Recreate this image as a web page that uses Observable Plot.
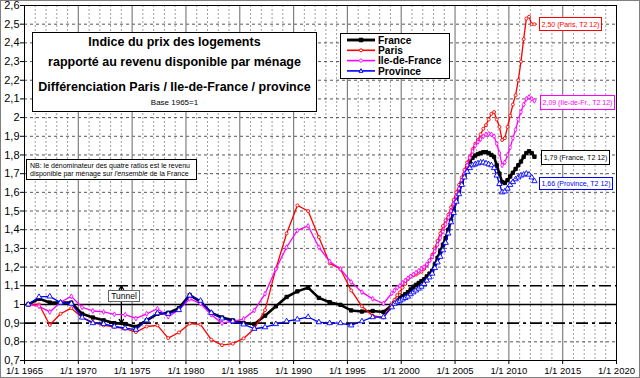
<!DOCTYPE html>
<html><head><meta charset="utf-8">
<script src="https://cdn.jsdelivr.net/npm/d3@7"></script>
<script src="https://cdn.jsdelivr.net/npm/@observablehq/plot@0.6"></script>
<style>
body{margin:0;background:#fff;font-family:"Liberation Sans",Arial,sans-serif;}
#wrap{position:relative;width:640px;height:378px;overflow:hidden;background:#fff;}
#wrap > svg{display:block;}
.ov{position:absolute;box-sizing:border-box;background:#fff;border:1px solid #000;white-space:nowrap;}
.t{position:absolute;left:0;right:0;text-align:center;line-height:1;}
#outer{position:absolute;left:0;top:0;width:640px;height:378px;box-sizing:border-box;border:1px solid #808080;pointer-events:none;}
</style></head><body><div id="wrap"></div>
<script>
// ---------- data ----------
const annualYears = d3.range(1965, 1999); // 1965..1998, annual values
const quarterYears = d3.range(1999, 2013); // quarterly values 1999 T1 .. 2012 T2
const series = ["France", "Paris", "Ile-de-France", "Province"];
const shortNames = ["France", "Paris", "Ile-de-Fr.", "Province"];
const colors = ["#000000", "#ff0000", "#ff00ff", "#0000ff"];

const franceAnnual = [1.00,1.03,1.01,1.01,1.01,0.95,0.93,0.915,0.90,0.895,
  0.88,0.915,0.95,0.955,0.98,1.05,1.015,0.955,0.93,0.915,
  0.90,0.895,0.94,0.99,1.04,1.07,1.09,1.035,1.012,0.998,
  0.968,0.962,0.965,0.96];
const parisAnnual = [1.00,1.00,0.89,0.95,0.98,0.93,0.905,0.888,0.88,0.87,
  0.852,0.882,0.888,0.82,0.85,0.898,0.893,0.812,0.782,0.79,
  0.818,0.87,0.97,1.19,1.38,1.53,1.50,1.36,1.22,1.19,
  1.075,0.99,0.94,0.93];
const idfAnnual = [1.00,0.99,0.96,1.012,1.043,0.985,0.965,0.96,0.947,0.945,
  0.925,0.95,0.977,0.935,0.972,1.03,1.005,0.945,0.90,0.91,
  0.922,0.968,1.057,1.19,1.306,1.396,1.42,1.306,1.23,1.19,
  1.12,1.066,1.03,1.005];
const provinceAnnual = [1.00,1.04,1.043,1.01,1.004,0.93,0.90,0.896,0.882,0.873,
  0.865,0.915,0.953,0.95,0.97,1.048,1.02,0.955,0.925,0.91,
  0.893,0.87,0.878,0.895,0.91,0.92,0.933,0.905,0.90,0.90,
  0.888,0.91,0.932,0.932];

const franceQuarterly = [0.995,1.01,1.02,1.035, 1.045,1.055,1.066,1.08, 1.095,1.105,1.115,1.125,
  1.135,1.15,1.165,1.18, 1.215,1.25,1.285,1.32, 1.355,1.40,1.45,1.50, 1.56,1.605,1.65,1.69,
  1.74,1.765,1.785,1.797, 1.805,1.81,1.815,1.815, 1.81,1.80,1.79,1.745, 1.70,1.655,1.65,1.665,
  1.685,1.705,1.725,1.745, 1.765,1.79,1.81,1.82, 1.81,1.79];
const parisQuarterly = [1.00,1.025,1.05,1.065, 1.09,1.11,1.135,1.15, 1.155,1.16,1.17,1.175,
  1.19,1.21,1.235,1.265, 1.30,1.34,1.38,1.42, 1.45,1.48,1.52,1.56, 1.60,1.64,1.68,1.72,
  1.76,1.79,1.83,1.86, 1.88,1.91,1.94,1.96, 1.99,2.02,2.03,1.99, 1.95,1.88,1.89,1.95,
  2.01,2.07,2.12,2.20, 2.30,2.42,2.53,2.54, 2.50,2.50];
const idfQuarterly = [1.06,1.075,1.09,1.10, 1.115,1.128,1.14,1.15, 1.16,1.17,1.18,1.19,
  1.20,1.215,1.235,1.255, 1.285,1.32,1.355,1.39, 1.43,1.465,1.50,1.54, 1.58,1.62,1.665,1.70,
  1.745,1.785,1.82,1.85, 1.87,1.885,1.90,1.91, 1.913,1.91,1.90,1.86, 1.81,1.745,1.76,1.80,
  1.84,1.89,1.935,1.99, 2.03,2.07,2.10,2.11, 2.10,2.09];
const provinceQuarterly = [0.985,1.004,1.012,1.02, 1.027,1.035,1.042,1.055, 1.065,1.075,1.085,1.095,
  1.11,1.128,1.145,1.165, 1.195,1.225,1.255,1.29, 1.33,1.38,1.44,1.49, 1.55,1.59,1.64,1.68,
  1.71,1.73,1.745,1.75, 1.755,1.76,1.76,1.755, 1.75,1.745,1.73,1.69, 1.645,1.60,1.605,1.62,
  1.64,1.655,1.67,1.68, 1.69,1.695,1.70,1.695, 1.68,1.66];

const xTickYears = [1965,1970,1975,1980,1985,1990,1995,2000,2005,2010,2015,2020];
const yTickValues = [0.7,0.8,0.9,1,1.1,1.2,1.3,1.4,1.5,1.6,1.7,1.8,1.9,2,2.1,2.2,2.3,2.4,2.5,2.6];
const tunnelBand = [0.9, 1.1];
const baseLevel = 1;
const tunnelYear = 1974;
const lastPeriod = "T2 12";

// ---------- build table ----------
const annualSets = [franceAnnual, parisAnnual, idfAnnual, provinceAnnual];
const quarterSets = [franceQuarterly, parisQuarterly, idfQuarterly, provinceQuarterly];
const quarterDates = [];
quarterYears.forEach(y => [0,1,2,3].forEach(q => quarterDates.push(y + q / 4 + 0.125)));
const rows = [];
series.forEach((s, i) => {
  annualSets[i].forEach((v, k) => rows.push({series: s, date: annualYears[k] + 0.35, value: v}));
  quarterSets[i].forEach((v, k) => rows.push({series: s, date: quarterDates[k], value: v}));
});

const symbols = {"France": "square", "Paris": "circle", "Ile-de-France": "diamond", "Province": "triangle"};
const widths = {"France": 2.6, "Paris": 1.3, "Ile-de-France": 1.3, "Province": 1.3};
const fmt = d => String(Math.round(d * 10) / 10).replace(".", ",");

const minorYears = d3.range(1966, 2020).filter(y => y % 5 !== 0);
const majorYears = xTickYears.slice(1, -1);
const gridY = yTickValues.filter(v => v > 0.75 && v < 2.55 && !tunnelBand.includes(v) && v !== baseLevel);

const lineMarks = [];
series.forEach((s, i) => {
  const d = rows.filter(r => r.series === s);
  lineMarks.push(Plot.line(d, {x: "date", y: "value", stroke: colors[i], strokeWidth: widths[s]}));
  const sym = symbols[s];
  lineMarks.push(Plot.dot(d, {x: "date", y: "value", symbol: sym,
    r: s === "France" ? 1.9 : (sym === "triangle" ? 2.0 : 1.5),
    stroke: colors[i], strokeWidth: 0.9,
    fill: s === "France" ? colors[i] : "white"}));
});

const chart = Plot.plot({
  width: 640, height: 378,
  marginLeft: 24, marginRight: 24, marginTop: 5, marginBottom: 18,
  style: {fontFamily: '"Liberation Sans", Arial, sans-serif', background: "white", color: "black"},
  x: {domain: [1965, 2020], label: null},
  y: {domain: [0.7, 2.6], label: null},
  marks: [
    Plot.ruleX(minorYears, {stroke: "#a0a0a0", strokeDasharray: "2,2", strokeWidth: 1}),
    Plot.ruleY(gridY, {stroke: "#555", strokeDasharray: "3,3", strokeWidth: 1}),
    Plot.ruleX(majorYears, {stroke: "#808080", strokeWidth: 1.2}),
    Plot.ruleY([baseLevel], {stroke: "#000", strokeWidth: 1.6}),
    Plot.ruleY(tunnelBand, {stroke: "#000", strokeWidth: 1.6, strokeDasharray: "12,4,3,4"}),
    Plot.arrow([{a: baseLevel, b: tunnelBand[1]}, {a: baseLevel, b: tunnelBand[0]}],
      {x1: () => tunnelYear, x2: () => tunnelYear, y1: "a", y2: "b", stroke: "#000", strokeWidth: 1.3, headLength: 5}),
    Plot.frame({stroke: "#000"}),
    Plot.axisY({ticks: yTickValues, tickFormat: fmt, tickSize: 4, tickPadding: 1, fontSize: 11, label: null}),
    Plot.axisX({ticks: xTickYears, tickFormat: d => "1/1 " + d, tickSize: 4, tickPadding: 3, fontSize: 9.5, label: null}),
    ...lineMarks
  ]
});
const wrap = document.getElementById("wrap");
wrap.appendChild(chart);

// ---------- overlays ----------
function box(left, top, w, h, color, html, css) {
  const d = document.createElement("div");
  d.className = "ov";
  d.style.cssText = `left:${left}px;top:${top}px;width:${w}px;height:${h}px;border-color:${color};color:${color};` + (css || "");
  d.innerHTML = html;
  wrap.appendChild(d);
  return d;
}
// title box
box(32, 32, 285, 80, "#000",
  `<div class="t" style="top:3px;font-weight:bold;font-size:12.5px;">Indice du prix des logements</div>
   <div class="t" style="top:23px;font-weight:bold;font-size:12.5px;">rapporté au revenu disponible par ménage</div>
   <div class="t" style="top:48px;font-weight:bold;font-size:12.5px;">Différenciation Paris / Ile-de-France / province</div>
   <div class="t" style="top:66px;font-size:8px;">Base 1965=1</div>`);
// NB box
box(26, 159, 171, 21, "#000",
  `<div style="position:absolute;left:3px;top:2px;font-size:7px;line-height:8px;">NB: le dénominateur des quatre ratios est le revenu<br>disponible par ménage sur <i>l'ensemble</i> de la France</div>`);
// Tunnel label
box(108, 290, 32, 12, "#000", `<div class="t" style="top:1px;font-size:8.5px;">Tunnel</div>`, "border-color:#666;color:#000;");
// end labels
const endBoxes = [
  {i: 0, left: 541, top: 150, w: 69, h: 15},
  {i: 1, left: 539, top: 17, w: 63, h: 14},
  {i: 2, left: 540, top: 95, w: 75, h: 15},
  {i: 3, left: 539, top: 177, w: 74, h: 13}
];
endBoxes.forEach(b => {
  const q = quarterSets[b.i];
  const last = q[q.length - 1].toFixed(2).replace(".", ",");
  box(b.left, b.top, b.w, b.h, colors[b.i],
    `<div class="t" style="top:${(b.h - 9) / 2}px;font-size:7px;">${last} (${shortNames[b.i]}, ${lastPeriod})</div>`);
});
// legend
const ns = "http://www.w3.org/2000/svg";
const leg = document.createElementNS(ns, "svg");
leg.setAttribute("width", 110); leg.setAttribute("height", 46);
leg.style.cssText = "position:absolute;left:340px;top:33px;";
let inner = `<rect x="0.5" y="0.5" width="109" height="45" fill="white" stroke="black"/>`;
const symPath = {
  square: "M-1.8,-1.8h3.6v3.6h-3.6z",
  circle: "M1.5,0A1.5,1.5 0 1 1 -1.5,0A1.5,1.5 0 1 1 1.5,0",
  diamond: "M0,-2L2,0L0,2L-2,0z",
  triangle: "M0,-2.2L2,1.4L-2,1.4z"
};
series.forEach((s, i) => {
  const y = 7 + i * 10.3;
  inner += `<line x1="7" x2="35" y1="${y}" y2="${y}" stroke="${colors[i]}" stroke-width="${widths[s] + 0.3}"/>`;
  inner += `<path transform="translate(21,${y})" d="${symPath[symbols[s]]}" fill="${i === 0 ? colors[i] : "white"}" stroke="${colors[i]}"/>`;
  inner += `<text x="38" y="${y + 3.6}" font-size="10.2" font-weight="bold" font-family="Liberation Sans, Arial, sans-serif" fill="black">${s}</text>`;
});
leg.innerHTML = inner;
wrap.appendChild(leg);
const outer = document.createElement("div"); outer.id = "outer"; wrap.appendChild(outer);
</script></body></html>
